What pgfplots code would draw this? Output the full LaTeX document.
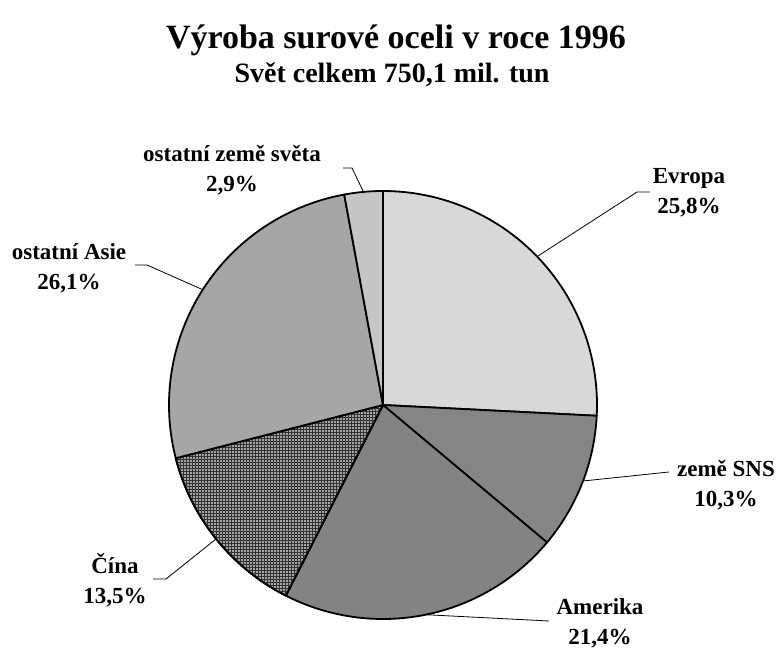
\documentclass[border=0pt]{standalone}
\usepackage{pgfplots}
\pgfplotsset{compat=1.18}
\usepackage{fontspec}
\setmainfont{Liberation Serif}
\usetikzlibrary{patterns}
\definecolor{cEvropa}{HTML}{D8D8D8}
\definecolor{cSNS}{HTML}{858585}
\definecolor{cAmerika}{HTML}{838383}
\definecolor{cCina}{HTML}{A4A4A4}
\definecolor{cAsie}{HTML}{A6A6A6}
\definecolor{cOst}{HTML}{C6C6C6}
% shares in percent
\def\pEvropa{25.8}
\def\pSNS{10.3}
\def\pAmerika{21.4}
\def\pCina{13.5}
\def\pAsie{26.1}
\def\pOst{2.9}
\def\R{214}
\begin{document}
\begin{tikzpicture}
\begin{axis}[
  x=1pt, y=1pt,
  xmin=-383, xmax=399, ymin=-243, ymax=405,
  hide axis, clip=false,
  every axis plot/.append style={line width=1.8pt, line join=round},
]
\addplot[draw=none, forget plot] coordinates {(-383,-243) (399,405)};
% Evropa
\addplot[fill=cEvropa, draw=black, data cs=polar, domain={90-3.6*\pEvropa}:{90}, samples=80]
  ({x},{\R}) -- (axis cs:0,0) -- cycle;
% zeme SNS
\addplot[fill=cSNS, draw=black, data cs=polar, domain={90-3.6*(\pEvropa+\pSNS)}:{90-3.6*\pEvropa}, samples=40]
  ({x},{\R}) -- (axis cs:0,0) -- cycle;
% Amerika
\addplot[fill=cAmerika, draw=black, data cs=polar, domain={90-3.6*(\pEvropa+\pSNS+\pAmerika)}:{90-3.6*(\pEvropa+\pSNS)}, samples=70]
  ({x},{\R}) -- (axis cs:0,0) -- cycle;
% Cina
\addplot[fill=cCina, draw=black, postaction={pattern=grid, pattern color=black!80}, data cs=polar, domain={90-3.6*(\pEvropa+\pSNS+\pAmerika+\pCina)}:{90-3.6*(\pEvropa+\pSNS+\pAmerika)}, samples=50]
  ({x},{\R}) -- (axis cs:0,0) -- cycle;
% ostatni Asie
\addplot[fill=cAsie, draw=black, data cs=polar, domain={90-3.6*(\pEvropa+\pSNS+\pAmerika+\pCina+\pAsie)}:{90-3.6*(\pEvropa+\pSNS+\pAmerika+\pCina)}, samples=80]
  ({x},{\R}) -- (axis cs:0,0) -- cycle;
% ostatni zeme sveta
\addplot[fill=cOst, draw=black, data cs=polar, domain={-270}:{90-3.6*(\pEvropa+\pSNS+\pAmerika+\pCina+\pAsie)}, samples=15]
  ({x},{\R}) -- (axis cs:0,0) -- cycle;
% leader lines
\addplot[black, line width=0.8pt] coordinates {(155,149) (254,213) (267,213)};
\addplot[black, line width=0.8pt] coordinates {(200,-76) (286,-67)};
\addplot[black, line width=0.8pt] coordinates {(42.7,-209.7) (166,-216)};
\addplot[black, line width=0.8pt] coordinates {(-167,-134) (-217,-174) (-230,-174)};
\addplot[black, line width=0.8pt] coordinates {(-180.3,115.3) (-236,140) (-248,140)};
\addplot[black, line width=0.8pt] coordinates {(-19.5,213) (-31,237) (-40,237)};
% titles
\node[font=\fontsize{34}{40}\selectfont\bfseries] at (axis cs:13,365) {Výroba surové oceli v roce 1996};
\node[font=\fontsize{28}{32}\selectfont\bfseries] at (axis cs:9,330) {Svět celkem 750,1 mil. tun};
% labels
\tikzset{lab/.style={font=\fontsize{23}{30}\selectfont\bfseries, align=center}}
\node[lab] at (axis cs:306,212) {Evropa\\25,8\%};
\node[lab] at (axis cs:343,-80) {země SNS\\10,3\%};
\node[lab] at (axis cs:217,-218) {Amerika\\21,4\%};
\node[lab] at (axis cs:-268,-175) {Čína\\13,5\%};
\node[lab] at (axis cs:-314,137) {ostatní Asie\\26,1\%};
\node[lab] at (axis cs:-151,235) {ostatní země světa\\2,9\%};
\end{axis}
\end{tikzpicture}
\end{document}
